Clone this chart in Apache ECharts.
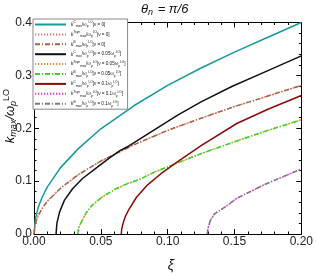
<!DOCTYPE html>
<html><head><meta charset="utf-8">
<script src="https://cdn.jsdelivr.net/npm/echarts@6/dist/echarts.min.js"></script>
<style>html,body{margin:0;padding:0;background:#fff}#c{width:316px;height:273px}</style>
</head><body><div id="c"></div><script>
// ---- data ----
const xiXTicks = [0, 0.05, 0.10, 0.15, 0.20];
const kYTicks = [0.0, 0.1, 0.2, 0.3, 0.4];

// nu = 0
const xiNu0 = [0, 0.001, 0.003, 0.006, 0.01, 0.02, 0.033, 0.05, 0.075, 0.1, 0.125, 0.15, 0.175, 0.2];
const kC_nu0 = [0, 0.028, 0.049, 0.069, 0.089, 0.126, 0.161, 0.199, 0.243, 0.281, 0.314, 0.344, 0.372, 0.4];
const kB_nu0 = [0, 0.02, 0.034, 0.048, 0.062, 0.087, 0.112, 0.138, 0.169, 0.196, 0.219, 0.241, 0.261, 0.281];
const kT_nu0 = [0, 0.02, 0.034, 0.048, 0.062, 0.087, 0.112, 0.138, 0.169, 0.196, 0.219, 0.241, 0.261, 0.281];

// nu = 0.05
const xiC_nu05 = [0.0165, 0.0168, 0.0172, 0.0182, 0.0192, 0.0228, 0.029, 0.0363, 0.0462, 0.056, 0.0646, 0.0707, 0.09, 0.1075, 0.125, 0.148, 0.175, 0.2];
const kC_nu05 = [0, 0.01, 0.021, 0.032, 0.042, 0.064, 0.086, 0.105, 0.124, 0.143, 0.158, 0.166, 0.197, 0.225, 0.25, 0.279, 0.309, 0.337];
const xiB_nu05 = [0.0327, 0.0331, 0.0338, 0.0351, 0.0388, 0.0437, 0.051, 0.0609, 0.0707, 0.078, 0.09, 0.107, 0.125, 0.1517, 0.175, 0.2];
const kB_nu05 = [0, 0.008, 0.014, 0.021, 0.039, 0.055, 0.07, 0.085, 0.096, 0.102, 0.117, 0.134, 0.152, 0.176, 0.196, 0.216];
const kT_nu05 = [0, 0.008, 0.014, 0.021, 0.039, 0.055, 0.07, 0.085, 0.096, 0.102, 0.117, 0.134, 0.152, 0.176, 0.196, 0.216];

// nu = 0.1
const xiC_nu1 = [0.0653, 0.0656, 0.0662, 0.067, 0.0685, 0.0707, 0.0768, 0.085, 0.095, 0.107, 0.125, 0.1517, 0.175, 0.2];
const kC_nu1 = [0, 0.009, 0.016, 0.023, 0.034, 0.045, 0.07, 0.093, 0.114, 0.136, 0.167, 0.209, 0.236, 0.262];
const xiB_nu1 = [0.1297, 0.13, 0.1305, 0.132, 0.135, 0.1444, 0.1517, 0.16, 0.1738, 0.185, 0.2];
const kB_nu1 = [0, 0.008, 0.014, 0.026, 0.038, 0.0535, 0.0675, 0.078, 0.095, 0.107, 0.123];
const kT_nu1 = [0, 0.008, 0.014, 0.026, 0.038, 0.0535, 0.0675, 0.078, 0.095, 0.107, 0.123];

const seriesNames = ['C0','T0','B0','C05','T05','B05','C1','T1','B1'];
const legendLabels = {
  C0:  ['C', '0'],
  T0:  ['Tsyn', '0'],
  B0:  ['B', '0'],
  C05: ['C', '0.05'],
  T05: ['Tsyn', '0.05'],
  B05: ['B', '0.05'],
  C1:  ['C', '0.1'],
  T1:  ['Tsyn', '0.1'],
  B1:  ['B', '0.1']
};

function pairs(xs, ys){ return xs.map((x,i)=>[x, ys[i]]); }

const FONT = '"Liberation Sans",Arial,sans-serif';
const DASHDOT = [5, 2, 1, 2];
const DOT = [1.2, 1.8];

const styles = {
  C0:  {color:'#16999a', type:'solid'},
  T0:  {color:'#e26a72', type:DOT},
  B0:  {color:'#a4663e', type:DASHDOT},
  C05: {color:'#111111', type:'solid'},
  T05: {color:'#e58a2a', type:DOT},
  B05: {color:'#30d820', type:DASHDOT},
  C1:  {color:'#8e0a0a', type:'solid'},
  T1:  {color:'#e82ee8', type:DOT},
  B1:  {color:'#7a7a7a', type:DASHDOT}
};
const seriesData = {
  C0: pairs(xiNu0, kC_nu0), T0: pairs(xiNu0, kT_nu0), B0: pairs(xiNu0, kB_nu0),
  C05: pairs(xiC_nu05, kC_nu05), T05: pairs(xiB_nu05, kT_nu05), B05: pairs(xiB_nu05, kB_nu05),
  C1: pairs(xiC_nu1, kC_nu1), T1: pairs(xiB_nu1, kT_nu1), B1: pairs(xiB_nu1, kB_nu1)
};

const chart = echarts.init(document.getElementById('c'), null, {renderer:'canvas'});

const tickCommon = {
  axisLine:{show:true, onZero:false, lineStyle:{color:'#000', width:1}},
  axisTick:{show:true, inside:true, length:5, lineStyle:{color:'#000', width:1}},
  minorTick:{show:true, splitNumber:5, length:2.5, lineStyle:{color:'#000', width:1}},
  splitLine:{show:false}
};

const option = {
  animation:false,
  backgroundColor:'#fff',
  title:{
    text:'{i|θ}{s|n}{i| = π/6}',
    left:141, top:2, padding:0,
    textStyle:{fontWeight:'normal', rich:{
      i:{fontFamily:FONT, fontStyle:'italic', fontWeight:'normal', fontSize:13, color:'#111'},
      s:{fontFamily:FONT, fontStyle:'italic', fontWeight:'normal', fontSize:9, color:'#111', verticalAlign:'bottom', padding:[6,1,0,0]}
    }}
  },
  grid:{left:34, right:10.5, top:22.5, bottom:39, containLabel:false},
  xAxis:[
    Object.assign({type:'value', min:0, max:0.2, interval:0.05, position:'bottom',
      axisLabel:{margin:2, fontFamily:FONT, fontSize:12, color:'#222',
        formatter:(v)=>{const t=xiXTicks.find(a=>Math.abs(a-v)<1e-9); return t===undefined?'':t.toFixed(2);}}}, tickCommon),
    Object.assign({type:'value', min:0, max:0.2, interval:0.05, position:'top',
      axisLabel:{show:false}}, tickCommon)
  ],
  yAxis:[
    Object.assign({type:'value', min:0, max:0.4, interval:0.1, position:'left',
      axisLabel:{margin:2, fontFamily:FONT, fontSize:12, color:'#222',
        formatter:(v)=>{const t=kYTicks.find(a=>Math.abs(a-v)<1e-9); return t===undefined?'':t.toFixed(1);}}}, tickCommon),
    Object.assign({type:'value', min:0, max:0.4, interval:0.1, position:'right',
      axisLabel:{show:false}}, tickCommon)
  ],
  legend:{
    orient:'vertical', left:33, top:19,
    data:seriesNames,
    itemWidth:31, itemHeight:6, itemGap:2.9, itemTextGap:3,
    padding:[2,2,2,1],
    itemStyle:{opacity:0},
    backgroundColor:'#fff', borderColor:'#888', borderWidth:1, borderRadius:0,
    z:10,
    formatter:(name)=>{
      const l = legendLabels[name];
      const nu = l[1]==='0' ? '{n|[ν = 0]}' : '{n|[ν = '+l[1]+'ω}{sub|p}{sup|LO}{n|]}';
      return '{k|k}{sup|'+l[0]+'}{sub|max}{n|/ω}{sub|p}{sup|LO}'+nu;
    },
    textStyle:{
      rich:{
        k:{fontFamily:FONT, fontStyle:'italic', fontSize:5, color:'#111', lineHeight:7},
        n:{fontFamily:FONT, fontSize:4.6, color:'#111', lineHeight:7},
        sup:{fontFamily:FONT, fontSize:3.2, color:'#111', verticalAlign:'top', lineHeight:7, padding:[0,0,2,0]},
        sub:{fontFamily:FONT, fontSize:3.2, color:'#111', verticalAlign:'bottom', lineHeight:7, padding:[2,0,0,0]}
      }
    }
  },
  graphic:[
    {type:'text', x:10, y:116, rotation:Math.PI/2, z:20,
      style:{text:'{i|k}{s|max}{i|/ω}{s|p}{u|LO}', align:'center', verticalAlign:'middle',
        rich:{
          i:{fontFamily:FONT, fontStyle:'italic', fontSize:13, fill:'#111'},
          s:{fontFamily:FONT, fontStyle:'italic', fontSize:9, fill:'#111', verticalAlign:'bottom', padding:[7,0,0,0]},
          u:{fontFamily:FONT, fontSize:9, fill:'#111', verticalAlign:'top', padding:[0,0,6,0]}
        }}},
    {type:'text', x:171, y:266, z:20,
      style:{text:'ξ', align:'center', verticalAlign:'middle',
        font:'italic 14px '+FONT, fill:'#111'}}
  ],
  series: seriesNames.map(n=>({
    name:n, type:'line', data:seriesData[n], showSymbol:false, symbol:'none',
    xAxisIndex:0, yAxisIndex:0, clip:true,
    lineStyle:{color:styles[n].color, type:styles[n].type, width:1.5},
    itemStyle:{color:styles[n].color},
    emphasis:{disabled:true}
  }))
};
chart.setOption(option);
</script></body></html>
